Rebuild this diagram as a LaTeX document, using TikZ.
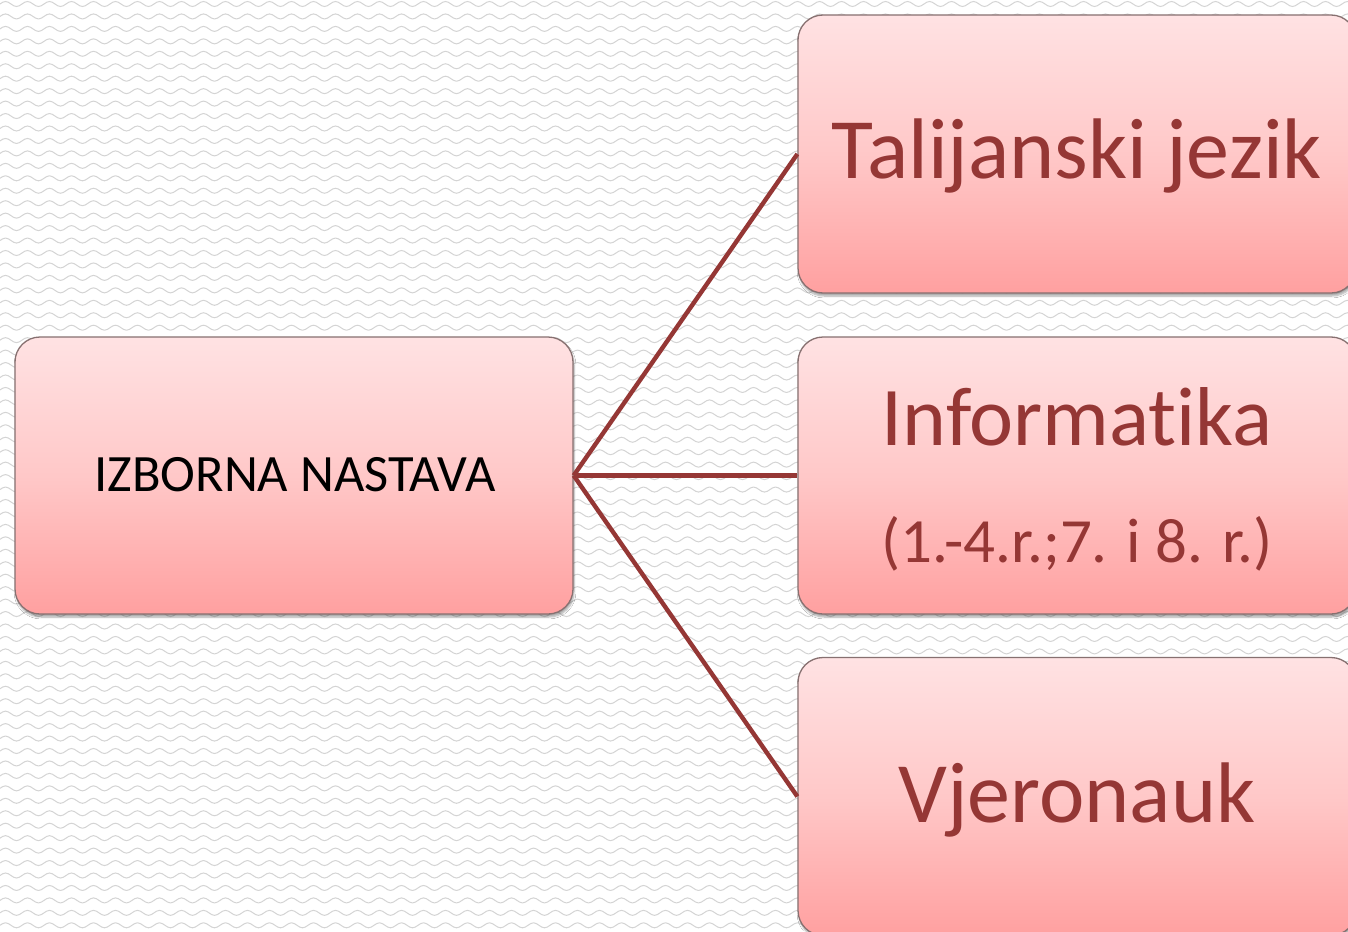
\documentclass[tikz,border=0pt]{standalone}
\usepackage{fontspec}
\setmainfont{Carlito}[RawFeature={-liga;-dlig;-clig}]
\usetikzlibrary{shadows.blur}
\definecolor{dred}{RGB}{149,55,53}
\definecolor{ptop}{RGB}{255,226,227}
\definecolor{pmid}{RGB}{255,200,200}
\definecolor{pbot}{RGB}{255,160,160}
\definecolor{bord}{RGB}{135,112,112}
\definecolor{wave}{RGB}{212,212,212}
\begin{document}
\begin{tikzpicture}[x=1pt,y=-1pt,
  box/.style={rectangle, rounded corners=25pt, draw=bord, line width=1.3pt,
    top color=ptop, bottom color=pbot, middle color=pmid,
    minimum width=558pt, minimum height=277pt, inner sep=0pt,
    blur shadow={shadow xshift=1pt, shadow yshift=-3pt, shadow opacity=35, shadow blur steps=6}},
  conn/.style={draw=dred, line width=4.4pt},
  lbl/.style={inner sep=0pt, anchor=base, text=dred}]
\useasboundingbox (0,0) rectangle (1348,931);
\clip (0,0) rectangle (1348,931);
\fill[white] (0,0) rectangle (1348,931);
\foreach \r in {0,...,75} {
  \draw[wave, line width=1pt] (0,\r*12.45+4) \foreach \k in {0,...,61} { sin ++(5.5,-2.5) cos ++(5.5,2.5) sin ++(5.5,2.5) cos ++(5.5,-2.5) };
}
\node[box] (L) at (294,475.5) {};
\node[box, minimum height=278pt] (T) at (1077,154) {};
\node[box] (M) at (1077,475.5) {};
\node[box, minimum height=278pt] (B) at (1077,796.5) {};
\draw[conn] (L.east) -- (T.west);
\draw[conn] (L.east) -- (M.west);
\draw[conn] (L.east) -- (B.west);
\node[lbl, text=black, font=\fontsize{52.5}{52.5}\selectfont] (tL) at (295,491) {IZBORNA NASTAVA};
\node[lbl, font=\fontsize{86}{86}\selectfont] (tT) at (1077,178) {Talijanski jezik};
\node[lbl, font=\fontsize{83.5}{83.5}\selectfont] (tM) at (1077,445) {Informatika};
\node[lbl, font=\fontsize{63}{63}\selectfont] (tM2) at (1077,562) {(1.-4.r.;7. i 8. r.)};
\node[lbl, font=\fontsize{86}{86}\selectfont] (tB) at (1077,822) {Vjeronauk};
\end{tikzpicture}
\end{document}
